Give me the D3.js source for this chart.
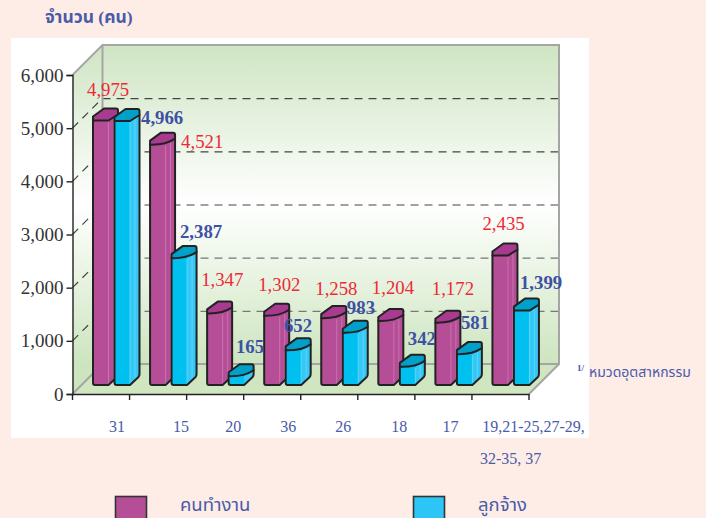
<!DOCTYPE html>
<meta charset="utf-8" />
<style>
  html, body { margin: 0; padding: 0; background: #fdede6; overflow: hidden; }
  text { font-family: "Liberation Serif", "Noto Sans Thai", serif; }
</style>
<body>
<svg id="chart" width="706" height="518"></svg>
<script src="https://d3js.org/d3.v7.min.js"></script>
<script>
  // chart values
  const categories = ["31", "15", "20", "36", "26", "18", "17", "19,21-25,27-29,"];
  const workers = [4975, 4521, 1347, 1302, 1258, 1204, 1172, 2435];
  const employees = [4966, 2387, 165, 652, 983, 342, 581, 1399];
  const yTicks = [0, 1000, 2000, 3000, 4000, 5000, 6000];

  // label nudges (from the top left of each bar)
  const workerLabelDx = [-6, 31, -6, -6, -6, -6.5, -3.6, -10];
  const workerLabelDy = [-24.6, 3.6, -27.7, -24.7, -22.7, -26.6, -27.6, -25.3];
  const employeeLabelDx = [26.5, 8.4, 7.3, -1.8, 4.1, 8, 4, 6];
  const employeeLabelDy = [3.4, -20.3, -23.1, -18.3, -18.5, -22.2, -25.3, -21.7];
  const categoryLabelDx = [16, 23, 18, 16, 14, 13, 7, 33];

  const purple = "#b54e97", purpleTop = "#a83a8f", purpleLight = "#c873ae";
  const blue = "#00c0f0", blueSide = "#35c8f7", blueTop = "#00a0c8", blueLight = "#5ed4f8";
  const ink = "#222";
  const textBlue = "#4a5ba8", boldBlue = "#3f51a3", red = "#ee2a35", wall = "#a5a5a5";

  const svg = d3.select("#chart");

  // white panel behind the plot
  svg.append("rect").attr("x", 11).attr("y", 38).attr("width", 578).attr("height", 400).attr("fill", "#fff");

  const left = 72.5, right = 529, depth = 30;
  const x = d3.scaleBand().domain(categories).range([left, right]);
  const y = d3.scaleLinear().domain([0, 6000]).range([394, 75]);
  // bars stand a little behind the front edge
  const barY = d3.scaleLinear().domain([0, 6000]).range([385, 66]);

  const defs = svg.append("defs");
  const grad = defs.append("linearGradient").attr("id", "wallFill")
    .attr("gradientUnits", "userSpaceOnUse")
    .attr("x1", 0).attr("x2", 0).attr("y1", y(6000) - depth).attr("y2", y(0) - depth);
  grad.append("stop").attr("offset", "0").attr("stop-color", "#cfe5c3");
  grad.append("stop").attr("offset", "0.5").attr("stop-color", "#ffffff");
  grad.append("stop").attr("offset", "1").attr("stop-color", "#cde5bf");

  // back wall, side wall, floor
  const poly = (pts) => d3.line()(pts) + "Z";
  svg.append("path")
    .attr("d", poly([[left + depth, y(6000) - depth], [right + depth, y(6000) - depth], [right + depth, y(0) - depth], [left + depth, y(0) - depth]]))
    .attr("fill", "url(#wallFill)");
  svg.append("path")
    .attr("d", poly([[left, y(6000)], [left + depth, y(6000) - depth], [left + depth, y(0) - depth], [left, y(0)]]))
    .attr("fill", "url(#wallFill)");
  svg.append("path")
    .attr("d", poly([[left, y(0)], [left + depth, y(0) - depth], [right + depth, y(0) - depth], [right, y(0)]]))
    .attr("fill", "#cfe6c0");

  // dashed grid on both walls
  const grid = yTicks.filter((d) => d > 0 && d < 6000);
  svg.append("g").selectAll("line").data(grid).join("line")
    .attr("x1", left + depth).attr("x2", right + depth)
    .attr("y1", (d) => y(d) - depth + 0.5).attr("y2", (d) => y(d) - depth + 0.5)
    .attr("stroke", (d) => (d < 3000 ? "#777" : "#444"))
    .attr("stroke-width", 1.2).attr("stroke-dasharray", "8 6");
  svg.append("g").selectAll("line").data(grid).join("line")
    .attr("x1", left).attr("x2", left + depth)
    .attr("y1", (d) => y(d)).attr("y2", (d) => y(d) - depth)
    .attr("stroke", "#444").attr("stroke-width", 1.2).attr("stroke-dasharray", "8 6");

  // wall edges
  svg.append("path")
    .attr("d", d3.line()([[left, y(6000)], [left + depth, y(6000) - depth], [right + depth, y(6000) - depth], [right + depth, y(0) - depth], [right, y(0)]]))
    .attr("fill", "none").attr("stroke", wall).attr("stroke-width", 2);
  svg.append("path")
    .attr("d", d3.line()([[left + depth, y(6000) - depth], [left + depth, y(0) - depth], [right + depth, y(0) - depth]]))
    .attr("fill", "none").attr("stroke", wall).attr("stroke-width", 2);
  svg.append("path")
    .attr("d", d3.line()([[left, y(0)], [left + depth, y(0) - depth]]))
    .attr("fill", "none").attr("stroke", wall).attr("stroke-width", 2);

  // axes
  const axisY = svg.append("g").attr("transform", `translate(${left},0)`)
    .call(d3.axisLeft(y).tickValues(yTicks).tickFormat(d3.format(",")).tickSize(6).tickPadding(3));
  axisY.selectAll("text").attr("font-size", 19).attr("fill", "#333")
    .style("font-family", '"Liberation Serif", serif');
  axisY.selectAll("line, path").attr("stroke", ink).attr("stroke-width", 1.4);

  const axisX = svg.append("g").attr("transform", `translate(0,${y(0)})`)
    .call(d3.axisBottom(x).tickSize(0).tickFormat(""));
  axisX.select("path").attr("stroke", ink).attr("stroke-width", 1.4);
  axisX.selectAll(".tick").remove();
  svg.append("g").selectAll("line")
    .data(categories.map((c) => x(c)).concat([right]))
    .join("line")
    .attr("x1", (d) => d).attr("x2", (d) => d)
    .attr("y1", y(0)).attr("y2", y(0) + 6)
    .attr("stroke", ink).attr("stroke-width", 1.4);

  // one bevelled 3D column
  const barW = 25, faceW = 15.5, bevel = 9, capH = 12, capSide = 6;
  function drawBar(g, x0, value, c, hexTop) {
    const top = barY(value), base = barY(0);
    const xr = x0 + barW, xf = x0 + faceW;
    // body
    const body = d3.path();
    body.moveTo(x0, top);
    body.lineTo(x0, base - 2);
    body.quadraticCurveTo(x0, base, x0 + 2, base);
    body.lineTo(xf, base);
    body.lineTo(xr - 1, base - bevel + 1);
    body.quadraticCurveTo(xr, base - bevel, xr, base - bevel - 2);
    body.lineTo(xr, top - capSide);
    body.closePath();
    g.append("path").attr("d", body.toString()).attr("fill", c.front);
    // side facet
    const side = d3.path();
    side.moveTo(xf, top);
    side.lineTo(xf, base);
    side.lineTo(xr - 1, base - bevel + 1);
    side.lineTo(xr, top - capSide);
    side.closePath();
    g.append("path").attr("d", side.toString()).attr("fill", c.side);
    // highlight strips
    if (base - top > 14) {
      g.append("line").attr("x1", xf).attr("x2", xf).attr("y1", top + 1).attr("y2", base - 1)
        .attr("stroke", c.light).attr("stroke-width", 1);
      g.append("line").attr("x1", xf + 5).attr("x2", xf + 5).attr("y1", top - 2).attr("y2", base - 4)
        .attr("stroke", c.light).attr("stroke-width", 1);
    }
    g.append("path").attr("d", body.toString()).attr("fill", "none")
      .attr("stroke", ink).attr("stroke-width", 2).attr("stroke-linejoin", "round");
    // cap
    const cap = d3.path();
    cap.moveTo(x0, top);
    if (hexTop) {
      cap.lineTo(xf, top);
      cap.lineTo(xr, top - capSide);
    } else {
      cap.quadraticCurveTo(xf, top + 0.5, xr, top - capSide);
    }
    cap.lineTo(xr, top - capH + 2);
    cap.quadraticCurveTo(xr, top - capH, xr - 2, top - capH);
    cap.lineTo(x0 + 11, top - capH);
    cap.lineTo(x0, top - 4);
    cap.closePath();
    g.append("path").attr("d", cap.toString()).attr("fill", c.top)
      .attr("stroke", ink).attr("stroke-width", 2).attr("stroke-linejoin", "round");
  }

  const purpleStyle = { front: purple, side: purple, top: purpleTop, light: purpleLight };
  const blueStyle = { front: blue, side: blueSide, top: blueTop, light: blueLight };
  const workerX = (i) => x(categories[i]) + 20.5;
  const employeeX = (i) => x(categories[i]) + 42;

  const bars = svg.append("g");
  categories.forEach((c, i) => {
    const hex = i === 0 || i === 7;
    drawBar(bars.append("g"), workerX(i), workers[i], purpleStyle, hex);
    drawBar(bars.append("g"), employeeX(i), employees[i], blueStyle, hex);
  });

  // value labels
  const fmt = d3.format(",");
  svg.append("g").selectAll("text").data(workers).join("text")
    .attr("x", (d, i) => workerX(i) + workerLabelDx[i])
    .attr("y", (d, i) => barY(d) + workerLabelDy[i])
    .attr("font-size", 18.8).attr("fill", red).text(fmt);
  svg.append("g").selectAll("text").data(employees).join("text")
    .attr("x", (d, i) => employeeX(i) + employeeLabelDx[i])
    .attr("y", (d, i) => barY(d) + employeeLabelDy[i])
    .attr("font-size", 18.8).attr("font-weight", "bold").attr("fill", boldBlue).text(fmt);

  // category labels
  svg.append("g").selectAll("text").data(categories).join("text")
    .attr("x", (d, i) => x(d) + x.bandwidth() / 2 + categoryLabelDx[i])
    .attr("y", 432).attr("text-anchor", "middle")
    .attr("font-size", 16).attr("fill", textBlue).text((d) => d);
  svg.append("text").attr("x", 480).attr("y", 464)
    .attr("font-size", 16).attr("fill", textBlue).text("32-35, 37");

  // title and footnote
  svg.append("text").attr("x", 45).attr("y", 23)
    .attr("font-size", 17.5).attr("font-weight", "bold").attr("fill", textBlue).text("จำนวน (คน)");
  svg.append("text").attr("x", 577).attr("y", 371)
    .attr("font-size", 9).attr("font-weight", "bold").attr("fill", boldBlue).text("1/");
  svg.append("text").attr("x", 589).attr("y", 377)
    .attr("font-size", 14).attr("fill", textBlue).text("หมวดอุตสาหกรรม");

  // legend
  const legend = [
    { name: "คนทำงาน", fill: purple, boxX: 115.5, textX: 180 },
    { name: "ลูกจ้าง", fill: "#2dc5f5", boxX: 413.5, textX: 478 },
  ];
  const item = svg.append("g").selectAll("g").data(legend).join("g");
  item.append("rect").attr("x", (d) => d.boxX).attr("y", 496.5).attr("width", 31).attr("height", 24)
    .attr("fill", (d) => d.fill).attr("stroke", "#333").attr("stroke-width", 1.6);
  item.append("text").attr("x", (d) => d.textX).attr("y", 511)
    .attr("font-size", 18.5).attr("fill", textBlue).text((d) => d.name);
</script>
</body>
